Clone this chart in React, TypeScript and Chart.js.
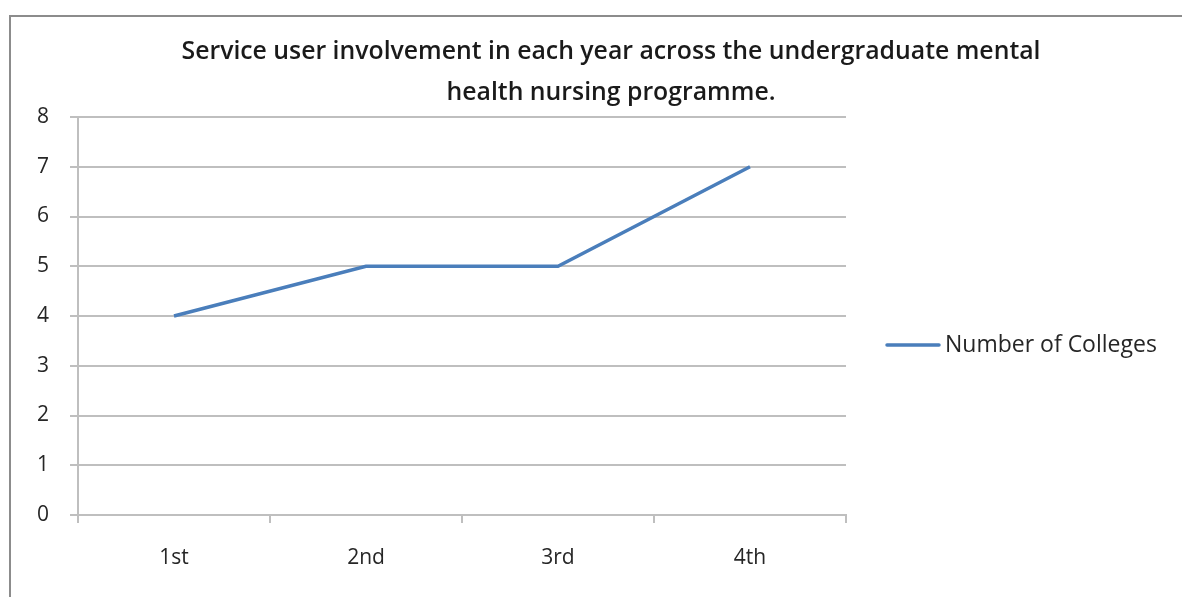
import { useEffect, useRef } from 'react';
import { Chart, registerables } from 'chart.js';

Chart.register(...registerables);

const categories = ['1st', '2nd', '3rd', '4th'];
const seriesLabel = 'Number of Colleges';
const seriesValues = [4, 5, 5, 7];
const yMin = 0;
const yMax = 8;
const yStep = 1;
const titleLines = [
  'Service user involvement in each year across the undergraduate mental',
  'health nursing programme.',
];

const FONT = '"Open Sans", "DejaVu Sans", sans-serif';
const LINE_COLOR = '#4a7ebb';
const GRID_COLOR = '#bfbfbf';
const TEXT_COLOR = '#262626';

const titlePlugin = {
  id: 'customTitle',
  afterDraw(chart: any) {
    const ctx = chart.ctx;
    ctx.save();
    ctx.font = `600 24.8px ${FONT}`;
    ctx.fillStyle = '#1a1a1a';
    ctx.textAlign = 'center';
    ctx.textBaseline = 'middle';
    const cx = 611;
    titleLines.forEach((line, i) => {
      ctx.fillText(line, cx, 52 + i * 41);
    });
    ctx.restore();
  },
};

const legendPlugin = {
  id: 'customLegend',
  afterDraw(chart: any) {
    const ctx = chart.ctx;
    ctx.save();
    chart.data.datasets.forEach((ds: any, i: number) => {
      const y = 345 + i * 30;
      ctx.strokeStyle = ds.borderColor;
      ctx.lineWidth = ds.borderWidth;
      ctx.lineCap = 'round';
      ctx.beginPath();
      ctx.moveTo(887, y);
      ctx.lineTo(939, y);
      ctx.stroke();
      ctx.font = `23px ${FONT}`;
      ctx.fillStyle = TEXT_COLOR;
      ctx.textAlign = 'left';
      ctx.textBaseline = 'middle';
      ctx.fillText(ds.label, 945, y);
    });
    ctx.restore();
  },
};

export default function App() {
  const ref = useRef<HTMLCanvasElement | null>(null);

  useEffect(() => {
    if (!ref.current) return;
    const chart = new Chart(ref.current, {
      type: 'line',
      data: {
        labels: categories,
        datasets: [
          {
            label: seriesLabel,
            data: seriesValues,
            borderColor: LINE_COLOR,
            backgroundColor: LINE_COLOR,
            borderWidth: 3.5,
            pointRadius: 0,
            tension: 0,
            fill: false,
          },
        ],
      },
      options: {
        animation: false,
        responsive: false,
        maintainAspectRatio: false,
        layout: { padding: { top: 117, left: 0, right: 336, bottom: 0 } },
        plugins: {
          legend: { display: false },
          title: { display: false },
          tooltip: { enabled: false },
        },
        scales: {
          x: {
            type: 'category',
            offset: true,
            afterFit: (s: any) => {
              s.height = 82;
            },
            grid: {
              offset: true,
              drawOnChartArea: false,
              drawTicks: true,
              tickLength: 8,
              color: GRID_COLOR,
              lineWidth: 2,
            },
            border: { display: true, color: GRID_COLOR, width: 2 },
            ticks: {
              color: TEXT_COLOR,
              font: { family: FONT, size: 21 },
              padding: 22,
              maxRotation: 0,
            },
          },
          y: {
            min: yMin,
            max: yMax,
            afterFit: (s: any) => {
              s.width = 78;
            },
            grid: {
              color: GRID_COLOR,
              lineWidth: 2,
              drawTicks: true,
              tickLength: 8,
            },
            border: { display: true, color: GRID_COLOR, width: 2 },
            ticks: {
              stepSize: yStep,
              color: TEXT_COLOR,
              font: { family: FONT, size: 21 },
              padding: 21,
            },
          },
        },
      },
      plugins: [titlePlugin, legendPlugin],
    });
    return () => chart.destroy();
  }, []);

  return (
    <div
      style={{
        position: 'fixed',
        left: 0,
        top: 0,
        width: 1182,
        height: 597,
        overflow: 'hidden',
        background: '#ffffff',
      }}
    >
      <div
        style={{
          position: 'absolute',
          left: 9,
          top: 15,
          width: 1400,
          height: 800,
          borderTop: '2px solid #8c8c8c',
          borderLeft: '2px solid #8c8c8c',
          boxSizing: 'border-box',
        }}
      />
      <canvas
        ref={ref}
        width={1182}
        height={597}
        style={{ position: 'absolute', left: 0, top: 0, width: 1182, height: 597 }}
      />
    </div>
  );
}
